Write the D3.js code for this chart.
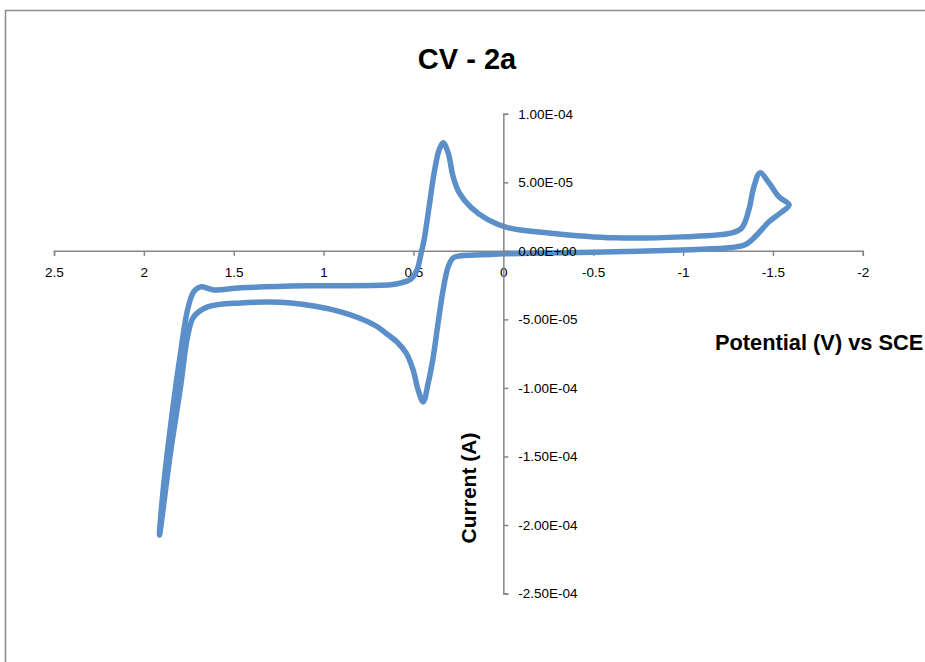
<!DOCTYPE html>
<html>
<head>
<meta charset="utf-8">
<script src="https://cdn.jsdelivr.net/npm/d3@7"></script>
<style>
  html, body { margin: 0; padding: 0; background: #fff; overflow: hidden; }
  svg { display: block; }
  text { font-family: "Liberation Sans", Arial, sans-serif; }
</style>
</head>
<body>
<script>
// ---- data ----
const potentials = [0.000,0.123,0.234,0.279,0.307,0.335,0.363,0.390,0.418,0.446,0.474,0.502,0.541,0.586,0.641,0.719,0.904,1.182,1.461,1.645,1.723,1.757,1.796,1.852,1.913,
  1.891,1.835,1.796,1.757,1.723,1.684,1.612,1.461,1.088,0.625,0.569,0.513,0.480,0.457,0.441,0.413,0.385,0.357,0.335,0.307,0.279,0.245,0.178,0.084,-0.028,-0.251,-0.619,-0.993,-1.272,-1.327,-1.366,-1.394,-1.428,-1.478,-1.534,-1.590,
  -1.550,-1.478,-1.400,-1.344,-1.255,-0.993,-0.619,-0.251,0.000];
const currents = [-0.22e-5,-0.29e-5,-0.36e-5,-0.51e-5,-1.17e-5,-2.85e-5,-5.26e-5,-7.74e-5,-9.64e-5,-11.02e-5,-10.15e-5,-8.69e-5,-7.45e-5,-6.72e-5,-6.13e-5,-5.40e-5,-4.45e-5,-3.80e-5,-3.80e-5,-4.09e-5,-4.82e-5,-6.28e-5,-9.93e-5,-14.74e-5,-20.73e-5,
  -17.23e-5,-11.09e-5,-7.45e-5,-4.31e-5,-2.99e-5,-2.63e-5,-2.85e-5,-2.70e-5,-2.55e-5,-2.48e-5,-2.34e-5,-2.04e-5,-1.39e-5,-0.15e-5,0.80e-5,3.21e-5,5.69e-5,7.37e-5,7.88e-5,7.15e-5,5.40e-5,4.23e-5,3.14e-5,2.26e-5,1.68e-5,1.31e-5,0.95e-5,1.02e-5,1.31e-5,1.68e-5,2.99e-5,4.67e-5,5.69e-5,4.96e-5,3.94e-5,3.36e-5,
  2.85e-5,2.12e-5,1.02e-5,0.44e-5,0.22e-5,0.07e-5,-0.07e-5,-0.15e-5,-0.22e-5];
const xTicks = [2.5, 2, 1.5, 1, 0.5, 0, -0.5, -1, -1.5, -2];
const yTicks = [1e-4, 5e-5, 0, -5e-5, -1e-4, -1.5e-4, -2e-4, -2.5e-4];
const chartTitle = "CV - 2a";
const xTitle = "Potential (V) vs SCE";
const yTitle = "Current (A)";

// ---- drawing ----
const W = 925, H = 662;
const svg = d3.select("body").append("svg").attr("width", W).attr("height", H);

// outer chart frame
svg.append("path")
  .attr("d", `M5.5,${H + 5} L5.5,10.5 L${W + 5},10.5`)
  .attr("fill", "none").attr("stroke", "#8c8c8c").attr("stroke-width", 1.5);

const x = d3.scaleLinear().domain([2.5, -2]).range([54, 862.8]);
const y = d3.scaleLinear().domain([-2.5e-4, 1e-4]).range([593.5, 113.8]);

function sci(v) {
  if (v === 0) return "0.00E+00";
  const s = v.toExponential(2).toUpperCase();
  const [m, e] = s.split("E");
  const sign = e[0] === "-" ? "-" : "+";
  const digits = e.replace(/[+-]/, "").padStart(2, "0");
  return m + "E" + sign + digits;
}

const axisColor = "#868686";

// x axis
const gx = svg.append("g").attr("transform", `translate(0,${y(0)})`)
  .call(d3.axisBottom(x).tickValues(xTicks).tickSize(5).tickPadding(12).tickFormat(d => String(d)));
gx.select(".domain").attr("stroke", axisColor).attr("stroke-width", 1.5);
gx.selectAll(".tick line").attr("stroke", axisColor).attr("stroke-width", 1.5);
gx.selectAll(".tick text").attr("font-size", 13.5).attr("fill", "#000")
  .attr("font-family", "'Liberation Sans', Arial, sans-serif");

// y axis
const gy = svg.append("g").attr("transform", `translate(${x(0)},0)`)
  .call(d3.axisRight(y).tickValues(yTicks).tickSize(5).tickPadding(10).tickFormat(sci));
gy.select(".domain").attr("stroke", axisColor).attr("stroke-width", 1.5);
gy.selectAll(".tick line").attr("stroke", axisColor).attr("stroke-width", 1.5);

// the CV curve
const pts = potentials.map((p, i) => [p, currents[i]]);
const line = d3.line().x(d => x(d[0])).y(d => y(d[1])).curve(d3.curveCatmullRom.alpha(0.5));
svg.append("path").datum(pts)
  .attr("d", line)
  .attr("fill", "none")
  .attr("stroke", "#5b8fc9")
  .attr("stroke-width", 5.5)
  .attr("stroke-linejoin", "round")
  .attr("stroke-linecap", "round");

// y labels on top of the curve
gy.raise();
gy.selectAll(".tick text").attr("font-size", 13.5).attr("fill", "#000")
  .attr("font-family", "'Liberation Sans', Arial, sans-serif");

// titles
svg.append("text").attr("x", 467).attr("y", 69).attr("text-anchor", "middle")
  .attr("font-size", 29).attr("font-weight", "bold").text(chartTitle);

svg.append("text").attr("x", 715).attr("y", 350)
  .attr("font-size", 21.8).attr("font-weight", "bold").text(xTitle);

svg.append("text").attr("transform", "translate(476,488) rotate(-90)")
  .attr("text-anchor", "middle")
  .attr("font-size", 21).attr("font-weight", "bold").text(yTitle);
</script>
</body>
</html>
